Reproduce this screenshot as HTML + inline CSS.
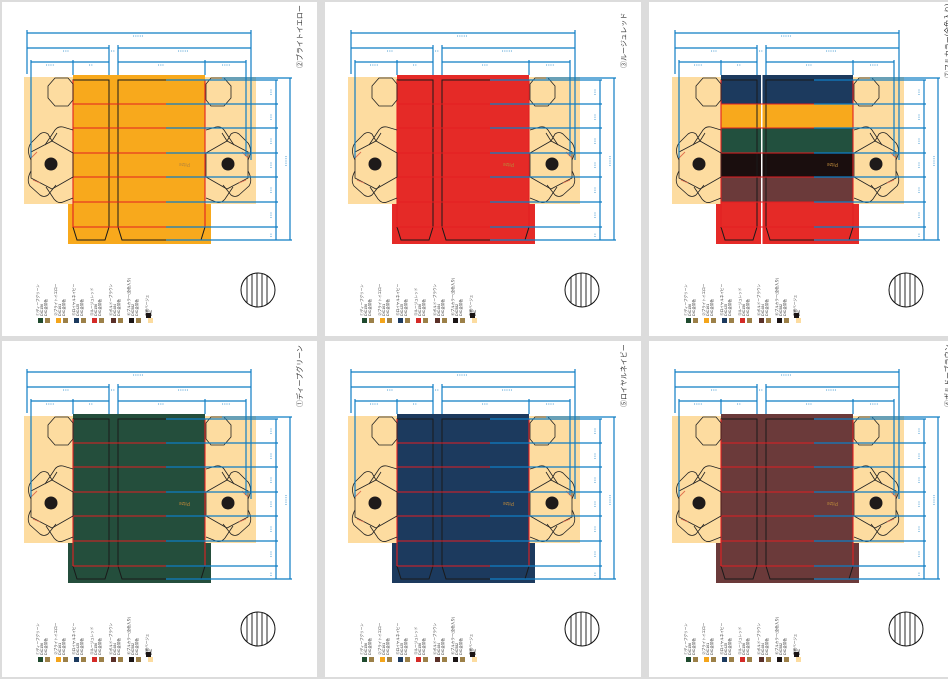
<!DOCTYPE html>
<html><head><meta charset="utf-8"><style>
html,body{margin:0;padding:0;background:#dcdcdc;width:948px;height:679px;overflow:hidden}
svg{display:block}
text{font-family:"Liberation Sans","Noto Sans CJK JP",sans-serif}
</style></head><body>
<svg width="948" height="679" viewBox="0 0 948 679" xmlns="http://www.w3.org/2000/svg">
<defs>
<g id="hexL">
 <polygon points="48,86 55,78 68,78 73,84 73,100 68,106 55,106 48,98" fill="none" stroke="#222" stroke-width="0.8"/>
 <polygon points="31,152 52,141 73,153 73,177 52,189 31,178" fill="none" stroke="#222" stroke-width="0.8"/>
 <path d="M45,145 L55,130 Q58,126 63,127 L73,130 M52,141 L57,133" fill="none" stroke="#222" stroke-width="0.8"/>
 <path d="M31,160 Q26,150 31,143 L40,134 Q44,131 48,134 L52,141" fill="none" stroke="#222" stroke-width="0.8"/>
 <path d="M31,171 Q26,180 30,186 L40,195 Q44,198 48,195 L56,185" fill="none" stroke="#222" stroke-width="0.8"/>
 <path d="M46,187 L54,199 Q58,204 63,202 L73,198" fill="none" stroke="#222" stroke-width="0.8"/>
 <path d="M31,158 L37,152 M33,180 L40,183" stroke="#e07050" stroke-width="0.9"/>
 <circle cx="51" cy="164" r="6.5" fill="#1e1a1a"/>
</g>
<g id="frame">
 <path d="M73,80 H109 V227 L105,240 H77 L73,227 Z" fill="none" stroke="#1a1a1a" stroke-width="1"/>
 <path d="M118,80 H205 V227 L201,240 H122 L118,227 Z" fill="none" stroke="#1a1a1a" stroke-width="1"/>
 <g stroke="#e21f22" stroke-width="1.1">
  <line x1="73" y1="80" x2="73" y2="227"/><line x1="205" y1="80" x2="205" y2="227"/>
  <line x1="73" y1="104" x2="166" y2="104"/><line x1="73" y1="128" x2="166" y2="128"/>
  <line x1="73" y1="153" x2="166" y2="153"/><line x1="73" y1="177" x2="166" y2="177"/>
  <line x1="73" y1="202" x2="166" y2="202"/><line x1="73" y1="227" x2="166" y2="227"/>
 </g>
 <use href="#hexL"/>
 <use href="#hexL" transform="translate(279,0) scale(-1,1)"/>
 <g stroke="#0f7dc4" stroke-width="1.2" fill="none">
  <line x1="166" y1="80" x2="278" y2="80"/><line x1="166" y1="104" x2="278" y2="104"/>
  <line x1="166" y1="128" x2="278" y2="128"/><line x1="166" y1="153" x2="278" y2="153"/>
  <line x1="166" y1="177" x2="278" y2="177"/><line x1="166" y1="202" x2="278" y2="202"/>
  <line x1="166" y1="227" x2="278" y2="227"/><line x1="166" y1="240" x2="292" y2="240"/>
  <line x1="222" y1="78" x2="292" y2="78"/>
  <line x1="276" y1="80" x2="276" y2="240"/><line x1="290" y1="78" x2="290" y2="240"/>
  <line x1="27" y1="30" x2="27" y2="74"/><line x1="251" y1="30" x2="251" y2="160"/>
  <line x1="31" y1="60" x2="31" y2="158"/><line x1="246" y1="60" x2="246" y2="156"/>
  <line x1="109" y1="45" x2="109" y2="75"/><line x1="118" y1="45" x2="118" y2="75"/>
  <line x1="73" y1="60" x2="73" y2="75"/><line x1="205" y1="60" x2="205" y2="75"/>
  <line x1="27" y1="33" x2="251" y2="33"/>
  <line x1="27" y1="48" x2="109" y2="48"/><line x1="118" y1="48" x2="251" y2="48"/>
  <line x1="31" y1="62" x2="109" y2="62"/><line x1="118" y1="62" x2="246" y2="62"/>
 </g>
 <g fill="#0f7dc4" font-size="3.5">
  <text x="133" y="37">• • • • •</text>
  <text x="63" y="52">• • •</text><text x="178" y="52">• • • • •</text><text x="111" y="52">• •</text>
  <text x="46" y="66">• • • •</text><text x="89" y="66">• •</text><text x="158" y="66">• • •</text><text x="222" y="66">• • • •</text>
 </g>
 <g fill="#0f7dc4" font-size="3.5">
  <text transform="translate(272,95) rotate(-90)">• • •</text>
  <text transform="translate(272,120) rotate(-90)">• • •</text>
  <text transform="translate(272,144) rotate(-90)">• • •</text>
  <text transform="translate(272,168) rotate(-90)">• • •</text>
  <text transform="translate(272,193) rotate(-90)">• • •</text>
  <text transform="translate(272,218) rotate(-90)">• • •</text>
  <text transform="translate(272,237) rotate(-90)">• •</text>
  <text transform="translate(287,166) rotate(-90)">• • • • •</text>
 </g>
 <text x="180" y="167" font-size="5" fill="#b8863a" transform="rotate(180 185 165)">Pitze</text>
 <circle cx="258" cy="290" r="17" fill="#fff" stroke="#111" stroke-width="1"/>
 <g stroke="#111" stroke-width="0.9">
  <line x1="247" y1="277" x2="247" y2="303"/><line x1="252" y1="274" x2="252" y2="306"/>
  <line x1="257" y1="273" x2="257" y2="307"/><line x1="262" y1="274" x2="262" y2="306"/>
  <line x1="267" y1="276" x2="267" y2="304"/>
 </g>
 <g font-size="3.6" fill="#333">
  <text transform="translate(39,316) rotate(-90)">①ディープグリーン</text><text transform="translate(43,316) rotate(-90)">DIC156</text><text transform="translate(47,316) rotate(-90)">DIC金茶色</text>
  <text transform="translate(57,316) rotate(-90)">②ブライトイエロー</text><text transform="translate(61,316) rotate(-90)">DIC161</text><text transform="translate(65,316) rotate(-90)">DIC金茶色</text>
  <text transform="translate(75,316) rotate(-90)">⑤ロイヤルネイビー</text><text transform="translate(79,316) rotate(-90)">DIC425</text><text transform="translate(83,316) rotate(-90)">DIC金茶色</text>
  <text transform="translate(93,316) rotate(-90)">③ルージュレッド</text><text transform="translate(97,316) rotate(-90)">DIC156</text><text transform="translate(101,316) rotate(-90)">DIC金茶色</text>
  <text transform="translate(112,316) rotate(-90)">④ボルドーブラウン</text><text transform="translate(116,316) rotate(-90)">DIC484</text><text transform="translate(120,316) rotate(-90)">DIC金茶色</text>
  <text transform="translate(130,316) rotate(-90)">⑥ブルカラー(全色入り)</text><text transform="translate(134,316) rotate(-90)">DIC582</text><text transform="translate(138,316) rotate(-90)">DIC金茶色</text>
  <text transform="translate(148,316) rotate(-90)">内面ベージュ</text><text transform="translate(152,316) rotate(-90)">DIC</text>
 </g>
 <g>
  <rect x="38" y="318" width="5" height="5" fill="#1f4a2e"/><rect x="45" y="318" width="5" height="5" fill="#9c8048"/>
  <rect x="56" y="318" width="5" height="5" fill="#f4a51b"/><rect x="63" y="318" width="5" height="5" fill="#9c8048"/>
  <rect x="74" y="318" width="5" height="5" fill="#1c3a5e"/><rect x="81" y="318" width="5" height="5" fill="#9c8048"/>
  <rect x="92" y="318" width="5" height="5" fill="#d42a27"/><rect x="99" y="318" width="5" height="5" fill="#9c8048"/>
  <rect x="111" y="318" width="5" height="5" fill="#5a3028"/><rect x="118" y="318" width="5" height="5" fill="#9c8048"/>
  <rect x="129" y="318" width="5" height="5" fill="#1a1414"/><rect x="136" y="318" width="5" height="5" fill="#9c8048"/>
  <rect x="146" y="313" width="5" height="5" fill="#1a1414"/><rect x="148" y="318" width="5" height="5" fill="#fcdca0"/>
 </g>
</g>
<g id="bg">
 <rect x="24" y="77" width="232" height="127" fill="#fddca0"/>
</g>
</defs>

<rect x="2" y="2" width="315" height="334" fill="#fff"/>
<rect x="325" y="2" width="316" height="334" fill="#fff"/>
<rect x="649" y="2" width="299" height="334" fill="#fff"/>
<rect x="2" y="341" width="315" height="336" fill="#fff"/>
<rect x="325" y="341" width="316" height="336" fill="#fff"/>
<rect x="649" y="341" width="299" height="336" fill="#fff"/>

<g>
 <use href="#bg"/>
 <rect x="73" y="75" width="132" height="129" fill="#f8a91c"/><rect x="68" y="204" width="143" height="40" fill="#f8a91c"/>
 <use href="#frame"/>
 <text transform="translate(302,68) rotate(-90)" font-size="7" fill="#333">②ブライトイエロー</text>
</g>
<g transform="translate(324,0)">
 <use href="#bg"/>
 <rect x="73" y="75" width="132" height="129" fill="#e52a27"/><rect x="68" y="204" width="143" height="40" fill="#e52a27"/>
 <use href="#frame"/>
 <text transform="translate(302,68) rotate(-90)" font-size="7" fill="#333">③ルージュレッド</text>
</g>
<g transform="translate(648,0)">
 <use href="#bg"/>
 <rect x="73" y="75" width="132" height="29" fill="#1c3a5e"/>
 <rect x="73" y="104" width="132" height="24" fill="#f8a91c"/>
 <rect x="73" y="128" width="132" height="25" fill="#22503e"/>
 <rect x="73" y="153" width="132" height="24" fill="#1a0e0e"/>
 <rect x="73" y="177" width="132" height="25" fill="#6b3a3a"/>
 <rect x="73" y="202" width="132" height="2" fill="#e52a27"/>
 <rect x="68" y="204" width="143" height="40" fill="#e52a27"/>
 <rect x="113" y="75" width="1.5" height="169" fill="#fff"/>
 <use href="#frame"/>
 <text transform="translate(302,78) rotate(-90)" font-size="7" fill="#333">⑦フルカラー(全色入り)</text>
</g>
<g transform="translate(0,339)">
 <use href="#bg"/>
 <rect x="73" y="75" width="132" height="129" fill="#244e3c"/><rect x="68" y="204" width="143" height="40" fill="#244e3c"/>
 <use href="#frame"/>
 <text transform="translate(302,68) rotate(-90)" font-size="7" fill="#333">①ディープグリーン</text>
</g>
<g transform="translate(324,339)">
 <use href="#bg"/>
 <rect x="73" y="75" width="132" height="129" fill="#1c3a5e"/><rect x="68" y="204" width="143" height="40" fill="#1c3a5e"/>
 <use href="#frame"/>
 <text transform="translate(302,68) rotate(-90)" font-size="7" fill="#333">⑤ロイヤルネイビー</text>
</g>
<g transform="translate(648,339)">
 <use href="#bg"/>
 <rect x="73" y="75" width="132" height="129" fill="#6b3a3a"/><rect x="68" y="204" width="143" height="40" fill="#6b3a3a"/>
 <use href="#frame"/>
 <text transform="translate(302,68) rotate(-90)" font-size="7" fill="#333">④ボルドーブラウン</text>
</g>
</svg>
</body></html>
